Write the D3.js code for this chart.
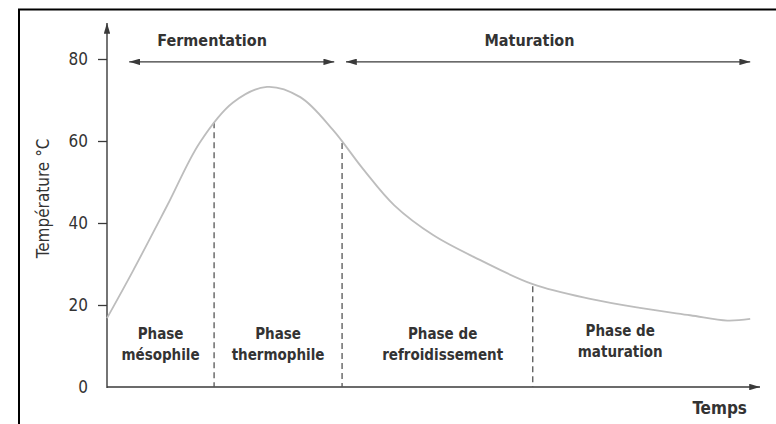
<!DOCTYPE html>
<html>
<head>
<meta charset="utf-8">
<script src="https://cdn.jsdelivr.net/npm/d3@7"></script>
<style>
    body { margin: 0; background: #fff; }
    svg { display: block; }
    text { font-family: "Liberation Sans Narrow", "DejaVu Sans Condensed", "Roboto Condensed", sans-serif; fill: #333; }
</style>
</head>
<body>
<svg id="chart"></svg>
<script>
// chart data
const TIME = [0, 4, 9.2, 14.2, 19.3, 24.5, 29.6, 34.6, 39.2, 44, 50, 57.1, 65.2, 74, 81.6, 89.3, 95, 98.5]
const TEMP = [16.8, 28.4, 44.2, 59.6, 69.4, 73.2, 70.7, 62.7, 53.2, 44.3, 37, 31, 25.1, 21.5, 19.3, 17.5, 16.2, 16.6]
const Y_TICKS = [0, 20, 40, 60, 80]

// phase boundaries (time) and the temperature where the dashed line meets the curve
const BOUNDARY_T = [16.4, 36.0, 65.2]
const BOUNDARY_V = [64.6, 59.5, 24.6]

// phase names, placed between boundaries
const PHASE_LINES = [["Phase", "mésophile"], ["Phase", "thermophile"], ["Phase de", "refroidissement"], ["Phase de", "maturation"]]
const PHASE_CENTER = [8.2, 26.2, 51.4, 78.6]

// stages at the top
const STAGE_NAMES = ["Fermentation", "Maturation"]
const STAGE_FROM = [3.4, 36.6]
const STAGE_TO = [34.8, 98.5]

const W = 776, H = 424
const DARK = "#3a3a3a"

const svg = d3.select("#chart").attr("width", W).attr("height", H)

const x = d3.scaleLinear().domain([0, 100]).range([107, 760])
const y = d3.scaleLinear().domain([0, 80]).range([387, 59])

// frame (top and left only)
svg.append("path")
    .attr("d", `M19,${H} L19,9.5 L${W},9.5`)
    .attr("fill", "none").attr("stroke", "#000").attr("stroke-width", 2)

// arrow markers
const defs = svg.append("defs")
function marker(id, orient) {
    defs.append("marker")
        .attr("id", id).attr("viewBox", "0 0 10 6")
        .attr("refX", 10).attr("refY", 3)
        .attr("markerWidth", 11).attr("markerHeight", 6.5)
        .attr("markerUnits", "userSpaceOnUse")
        .attr("orient", orient)
        .append("path").attr("d", "M0,0 L10,3 L0,6 Z").attr("fill", DARK)
}
marker("arr", "auto")
marker("arrStart", "auto-start-reverse")

// y axis ticks and labels
const yAxis = d3.axisLeft(y).tickValues(Y_TICKS).tickSize(9).tickPadding(10)
const gy = svg.append("g").attr("transform", `translate(${x(0)},0)`).call(yAxis)
gy.select(".domain").remove()
gy.selectAll(".tick line").attr("stroke", DARK).attr("stroke-width", 1.3)
    .filter(d => d === 0).remove()
gy.selectAll(".tick text").attr("font-size", 17).attr("fill", "#333")
    .style("font-family", null)

// axis lines with arrows
svg.append("line")
    .attr("x1", x(0)).attr("y1", y(0) + 1).attr("x2", x(0)).attr("y2", y(88.8))
    .attr("stroke", DARK).attr("stroke-width", 1.4).attr("marker-end", "url(#arr)")
svg.append("line")
    .attr("x1", x(0)).attr("y1", y(0)).attr("x2", x(100)).attr("y2", y(0))
    .attr("stroke", DARK).attr("stroke-width", 1.4).attr("marker-end", "url(#arr)")

// axis titles
svg.append("text")
    .attr("transform", `translate(49,${y(46)}) rotate(-90)`)
    .attr("text-anchor", "middle").attr("font-size", 17)
    .text("Température °C")
svg.append("text")
    .attr("x", x(98)).attr("y", 414)
    .attr("text-anchor", "end").attr("font-size", 17).attr("font-weight", "bold")
    .text("Temps")

// dashed phase boundaries
svg.selectAll(".bound").data(BOUNDARY_T).enter().append("line")
    .attr("x1", d => x(d)).attr("x2", d => x(d))
    .attr("y1", (d, i) => y(BOUNDARY_V[i])).attr("y2", y(0))
    .attr("stroke", "#555").attr("stroke-width", 1.3).attr("stroke-dasharray", "6,4")

// temperature curve
const pts = TIME.map((t, i) => [t, TEMP[i]])
svg.append("path").datum(pts)
    .attr("fill", "none").attr("stroke", "#bdbdbd").attr("stroke-width", 1.8)
    .attr("d", d3.line().x(d => x(d[0])).y(d => y(d[1])).curve(d3.curveCatmullRom.alpha(0.5)))

// phase names
PHASE_LINES.forEach((lines, i) => {
    const t = svg.append("text")
        .attr("x", x(PHASE_CENTER[i])).attr("y", i === 3 ? 336 : 339)
        .attr("text-anchor", "middle").attr("font-size", 15).attr("font-weight", "bold")
    lines.forEach((s, j) => t.append("tspan").attr("x", x(PHASE_CENTER[i])).attr("dy", j ? 21 : 0).text(s))
})

// stages: double arrows and names
STAGE_NAMES.forEach((name, i) => {
    svg.append("line")
        .attr("x1", x(STAGE_FROM[i])).attr("x2", x(STAGE_TO[i]))
        .attr("y1", y(79.3)).attr("y2", y(79.3))
        .attr("stroke", DARK).attr("stroke-width", 1.4)
        .attr("marker-start", "url(#arrStart)").attr("marker-end", "url(#arr)")
    svg.append("text")
        .attr("x", i === 0 ? x(16.1) : x(64.7)).attr("y", 46)
        .attr("text-anchor", "middle").attr("font-size", 16).attr("font-weight", "bold")
        .text(name)
})
</script>
</body>
</html>
